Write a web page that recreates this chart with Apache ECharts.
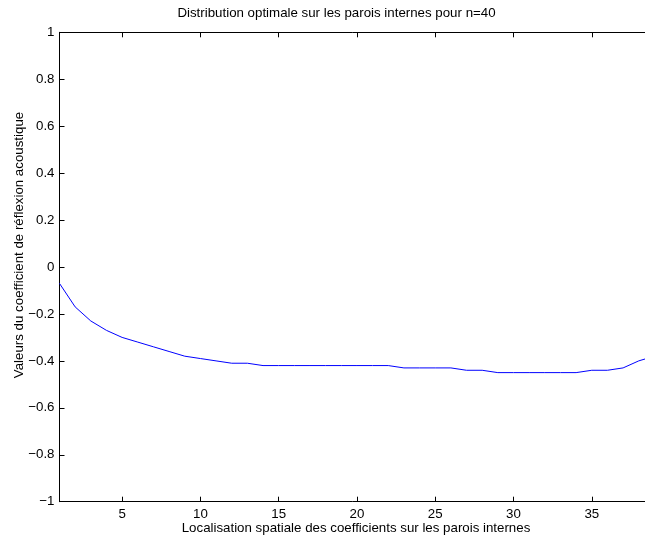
<!DOCTYPE html>
<html>
<head>
<meta charset="utf-8">
<script src="https://cdn.jsdelivr.net/npm/echarts@6/dist/echarts.min.js"></script>
<style>html,body{margin:0;padding:0;background:#fff}#c{width:645px;height:536px}</style>
</head>
<body>
<div id="c"></div>
<script>
const positions = [1,2,3,4,5,6,7,8,9,10,11,12,13,14,15,16,17,18,19,20,21,22,23,24,25,26,27,28,29,30,31,32,33,34,35,36,37,38,39];
const values = [-0.07,-0.17,-0.23,-0.27,-0.30,-0.32,-0.34,-0.36,-0.38,-0.39,-0.40,-0.41,-0.41,-0.42,-0.42,-0.42,-0.42,-0.42,-0.42,-0.42,-0.42,-0.42,-0.43,-0.43,-0.43,-0.43,-0.44,-0.44,-0.45,-0.45,-0.45,-0.45,-0.45,-0.45,-0.44,-0.44,-0.43,-0.40,-0.38];
const xTicks = [5,10,15,20,25,30,35];
const xMin = 1, xMax = 38.4;
const titleText = 'Distribution optimale sur les parois internes pour n=40';
const xLabel = 'Localisation spatiale des coefficients sur les parois internes';
const yLabel = 'Valeurs du coefficient de réflexion acoustique';

const font = 'Liberation Sans, Arial, Helvetica, sans-serif';
const fs = 13.3;
const chart = echarts.init(document.getElementById('c'), null, {renderer: 'canvas'});
const fmtY = v => (Math.round(v*10)/10).toString().replace('-', '\u2212');
chart.setOption({
  animation: false,
  backgroundColor: '#fff',
  grid: {left: 59.5, top: 32.3, right: 0, bottom: 34.3, containLabel: false},
  xAxis: [{
    type: 'value', min: xMin, max: xMax, position: 'bottom',
    axisLine: {show: true, onZero: false, lineStyle: {color: '#000', width: 1}},
    axisTick: {show: true, inside: true, length: 5, customValues: xTicks, lineStyle: {color: '#000'}},
    axisLabel: {show: true, customValues: xTicks, color: '#000', fontFamily: font, fontSize: fs, margin: 6},
    splitLine: {show: false}
  }, {
    type: 'value', min: xMin, max: xMax, position: 'top',
    axisLine: {show: true, onZero: false, lineStyle: {color: '#000', width: 1}},
    axisTick: {show: true, inside: true, length: 5, customValues: xTicks, lineStyle: {color: '#000'}},
    axisLabel: {show: false},
    splitLine: {show: false}
  }],
  yAxis: {
    type: 'value', min: -1, max: 1, interval: 0.2,
    axisLine: {show: true, onZero: false, lineStyle: {color: '#000', width: 1}},
    axisTick: {show: true, inside: true, length: 5, lineStyle: {color: '#000'}},
    axisLabel: {color: '#000', fontFamily: font, fontSize: fs, margin: 5, formatter: fmtY},
    splitLine: {show: false}
  },
  series: [{
    type: 'line', xAxisIndex: 0,
    data: positions.map((p, i) => [p, values[i]]),
    showSymbol: false, symbol: 'none',
    lineStyle: {color: '#0000ff', width: 1},
    clip: true
  }],
  graphic: [
    {type: 'text', x: 336.5, y: 13, style: {text: titleText, fill: '#000', font: fs + 'px ' + font, textAlign: 'center', textVerticalAlign: 'middle'}},
    {type: 'text', x: 356, y: 528, style: {text: xLabel, fill: '#000', font: fs + 'px ' + font, textAlign: 'center', textVerticalAlign: 'middle'}},
    {type: 'text', x: 19, y: 245, rotation: Math.PI/2, style: {text: yLabel, fill: '#000', font: fs + 'px ' + font, textAlign: 'center', textVerticalAlign: 'middle'}}
  ]
});
</script>
</body>
</html>
